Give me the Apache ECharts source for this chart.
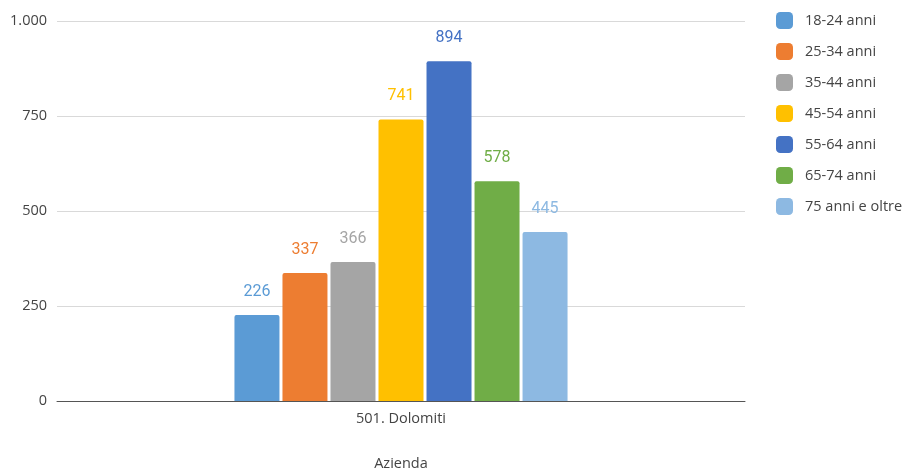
<!DOCTYPE html>
<html>
<head>
<meta charset="utf-8">
<script src="https://cdn.jsdelivr.net/npm/echarts@6/dist/echarts.min.js"></script>
<style>
  html, body { margin: 0; padding: 0; background: #fff; }
  #chart { width: 905px; height: 468px; }
</style>
</head>
<body>
<div id="chart"></div>
<script>
// Age groups of the population, one bar per group
const categories = ['501. Dolomiti'];
const ageGroups = ['18-24 anni', '25-34 anni', '35-44 anni', '45-54 anni', '55-64 anni', '65-74 anni', '75 anni e oltre'];
const values = [226, 337, 366, 741, 894, 578, 445];
const colors = ['#5B9BD5', '#ED7D31', '#A5A5A5', '#FFC000', '#4472C4', '#70AD47', '#8DB9E2'];

const fmt = v => String(v).replace(/\B(?=(\d{3})+(?!\d))/g, '.');

const series = ageGroups.map((name, i) => ({
  name: name,
  type: 'bar',
  data: [values[i]],
  barWidth: 45,
  barGap: '6.7%',
  itemStyle: { color: colors[i], borderRadius: [2, 2, 0, 0] },
  label: {
    show: true,
    position: 'top',
    distance: 15,
    color: colors[i],
    fontFamily: 'Roboto',
    fontSize: 16
  }
}));

const chart = echarts.init(document.getElementById('chart'));
chart.setOption({
  animation: false,
  textStyle: { fontFamily: 'Open Sans' },
  grid: { left: 57, right: 160, top: 21, bottom: 67, outerBoundsMode: 'none', containLabel: false },
  legend: {
    orient: 'vertical',
    left: 776,
    top: 12,
    padding: 0,
    icon: 'roundRect',
    itemWidth: 17,
    itemHeight: 17,
    itemGap: 14,
    textStyle: { color: '#444', fontSize: 14.5, fontFamily: 'Open Sans', padding: [0, 0, 0, 7] },
    data: ageGroups
  },
  xAxis: {
    type: 'category',
    data: categories,
    name: 'Azienda',
    nameLocation: 'middle',
    nameGap: 55,
    nameTextStyle: { color: '#444', fontSize: 14.5 },
    axisLine: { lineStyle: { color: '#555', width: 1 } },
    axisTick: { show: false },
    axisLabel: { color: '#444', fontSize: 14.5, margin: 10 }
  },
  yAxis: {
    type: 'value',
    min: 0,
    max: 1000,
    interval: 250,
    axisLine: { show: false },
    axisTick: { show: false },
    axisLabel: { color: '#444', fontSize: 14.5, margin: 10, formatter: fmt },
    splitLine: { lineStyle: { color: '#d9d9d9' } }
  },
  series: series
});
</script>
</body>
</html>
